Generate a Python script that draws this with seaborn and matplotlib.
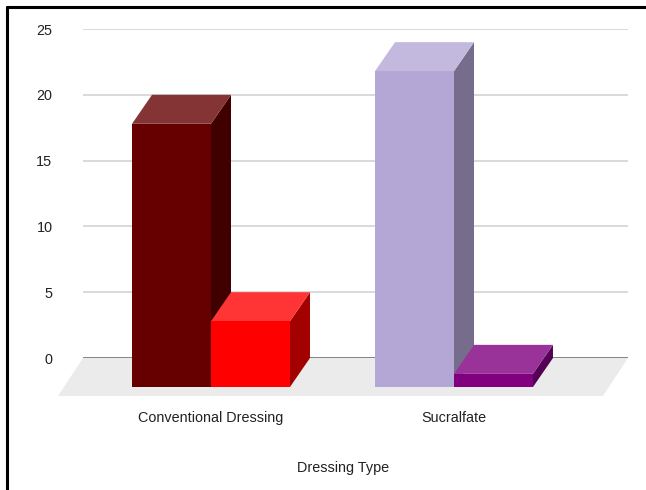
import matplotlib
matplotlib.use("Agg")
import matplotlib.pyplot as plt
from matplotlib.patches import Polygon
from matplotlib.lines import Line2D
import seaborn as sns
import pandas as pd

# --- data -------------------------------------------------------------
dressing_types = ["Conventional Dressing", "Sucralfate"]
series_names = ["Group A", "Group B"]
group_a_counts = [20, 24]
group_b_counts = [5, 1]
y_ticks = [0, 5, 10, 15, 20, 25]

# front / top / side shades for every bar, keyed by (dressing, series)
shades = {
    ("Conventional Dressing", "Group A"): ("#660000", "#843434", "#400000"),
    ("Conventional Dressing", "Group B"): ("#ff0000", "#ff3535", "#a30000"),
    ("Sucralfate", "Group A"): ("#b4a7d6", "#c3b9de", "#766d8c"),
    ("Sucralfate", "Group B"): ("#800080", "#993399", "#540054"),
}

df = pd.DataFrame({
    "dressing": dressing_types * 2,
    "series": [series_names[0]] * 2 + [series_names[1]] * 2,
    "count": group_a_counts + group_b_counts,
})

# --- figure -----------------------------------------------------------
W, H = 646, 490
sns.set_theme(style="white")
plt.rcParams["font.family"] = ["Liberation Sans", "DejaVu Sans"]
fig = plt.figure(figsize=(W / 100, H / 100), dpi=100)
ax_l, ax_r, ax_t, ax_b = 83, 628, 29, 358
ax = fig.add_axes([ax_l / W, 1 - ax_b / H, (ax_r - ax_l) / W, (ax_b - ax_t) / H])

sns.barplot(data=df, x="dressing", y="count", hue="series", order=dressing_types,
            hue_order=series_names, width=0.65, gap=0, dodge=True, linewidth=0,
            legend=False, ax=ax)

ymin, ymax = 0, 25
px_per_y = (ax_b - ax_t) / (ymax - ymin)
x_unit = 243.0
ax.set_ylim(ymin, ymax)
ax.set_xlim(-(211 - ax_l) / x_unit, 1 + (ax_r - 454) / x_unit)

# depth vector of the extruded bars (in data units)
depth_x = 20 / x_unit
depth_y = 29 / px_per_y

bars = sorted(ax.patches, key=lambda p: p.get_x())
for i, p in enumerate(bars):
    x0, w, v = p.get_x(), p.get_width(), p.get_height()
    # identify category and series from position
    center = x0 + w / 2
    cat = dressing_types[int(round(center))]
    ser = series_names[0] if center < round(center) else series_names[1]
    front, top, side = shades[(cat, ser)]
    z = 3 + i
    p.set_y(-depth_y)
    p.set_facecolor(front)
    p.set_edgecolor("none")
    p.set_clip_on(False)
    p.set_zorder(z + 0.2)
    x1 = x0 + w
    ax.add_patch(Polygon([(x0, v - depth_y), (x1, v - depth_y), (x1 + depth_x, v),
                          (x0 + depth_x, v)], closed=True, facecolor=top,
                         edgecolor="none", clip_on=False, zorder=z + 0.1))
    ax.add_patch(Polygon([(x1, -depth_y), (x1 + depth_x, 0), (x1 + depth_x, v),
                          (x1, v - depth_y)], closed=True, facecolor=side,
                         edgecolor="none", clip_on=False, zorder=z))

# floor plane
fw = ax_r - ax_l
fh = ax_b - ax_t
fdx, fdy = 25 / fw, 38 / fh
ax.add_patch(Polygon([(0, 0), (1, 0), (1 - fdx, -fdy), (-fdx, -fdy)], closed=True,
                     transform=ax.transAxes, facecolor="#ebebeb", edgecolor="none",
                     clip_on=False, zorder=0.5))

# gridlines and baseline
ax.set_yticks(y_ticks)
ax.yaxis.grid(True, color="#d9d9d9", linewidth=1.4)
ax.set_axisbelow(True)
ax.axhline(0, color="#6b6b6b", linewidth=1.8, zorder=1.5)
for s in ax.spines.values():
    s.set_visible(False)

fs = 10.4
ax.tick_params(axis="y", length=0, pad=22, labelsize=fs, labelcolor="#222222")
ax.tick_params(axis="x", length=0, pad=38, labelsize=fs, labelcolor="#222222")
ax.set_xlabel("")
ax.set_ylabel("")
fig.text(343 / W, 1 - 468 / H, "Dressing Type", ha="center", va="center",
         fontsize=fs, color="#222222")

# frame along the top and left edges
fig.add_artist(Line2D([7 / W, 7 / W], [0, 1 - 7 / H], transform=fig.transFigure,
                      color="black", linewidth=2.2))
fig.add_artist(Line2D([7 / W, 1], [1 - 7 / H, 1 - 7 / H], transform=fig.transFigure,
                      color="black", linewidth=2.2))

fig.savefig("out.png", dpi=100)
